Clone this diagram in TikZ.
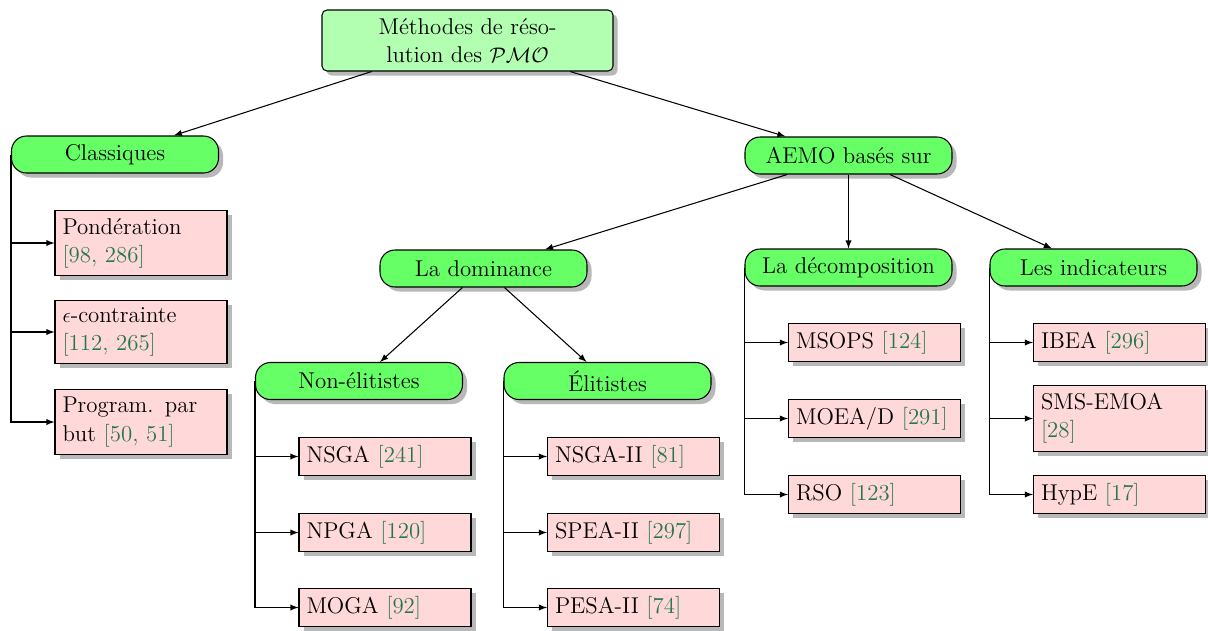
\documentclass[tikz,border=0pt]{standalone}
\usepackage{amsmath,amsfonts}
\usepackage{tikz}
\usetikzlibrary{shadows,arrows}

\definecolor{citegreen}{RGB}{38,120,74}
\newcommand{\refc}[1]{\textcolor{citegreen}{[#1]}}

\begin{document}
\begin{tikzpicture}
	[   font=\fontsize{13}{16}\selectfont,
		myshadow/.style={drop shadow={shadow xshift=0.09cm,shadow yshift=-0.09cm,fill=black!28,opacity=1}},
		rnode/.style={draw=black,semithick,fill=#1,rounded corners=0.3cm,minimum width=4.14cm,minimum height=0.74cm,myshadow},
		leaf/.style={draw=black,semithick,fill=red!15,text width=3.14cm,align=left,inner sep=0.15cm,minimum height=0.74cm,myshadow},
	]
	\tikzset{normal arrow/.style={draw,semithick,-latex}}
	\useasboundingbox (0,0) rectangle (24.16,-12.6);
	
	\node[draw=black,semithick,fill=green!30,rounded corners=0.1cm,minimum width=5.82cm,minimum height=1.22cm,align=center,myshadow] (m) at (9.35,-0.81) {Méthodes de réso-\\lution des $\mathcal{PMO}$};
	
	\node[rnode=green!60] (c) at (2.3,-3.09) {Classiques};
	\node[rnode=green!60] (a) at (16.97,-3.11) {AEMO basés sur};
	\node[rnode=green!60] (d) at (9.67,-5.37) {La dominance};
	\node[rnode=green!60] (dc) at (16.97,-5.35) {La décomposition};
	\node[rnode=green!60] (ind) at (21.87,-5.35) {Les indicateurs};
	\node[rnode=green!60] (ne) at (7.18,-7.62) {Non-élitistes};
	\node[rnode=green!60] (el) at (12.15,-7.62) {Élitistes};
	
	% classiques
	\node[leaf] (c-1) at (2.82,-4.86) {Pondération\\\refc{98, 286}};
	\node[leaf] (c-2) at (2.82,-6.64) {$\epsilon$-contrainte\\\refc{112, 265}};
	\node[leaf] (c-3) at (2.82,-8.44) {Program. par\\but \refc{50, 51}};
	
	% dominance
	\node[leaf] (ne-1) at (7.7,-9.13) {NSGA \refc{241}};
	\node[leaf] (ne-2) at (7.7,-10.65) {NPGA \refc{120}};
	\node[leaf] (ne-3) at (7.7,-12.15) {MOGA \refc{92}};
	\node[leaf] (el-1) at (12.67,-9.13) {NSGA-II \refc{81}};
	\node[leaf] (el-2) at (12.67,-10.65) {SPEA-II \refc{297}};
	\node[leaf] (el-3) at (12.67,-12.15) {PESA-II \refc{74}};
	
	% decomposition, indicateurs
	\node[leaf] (dc-1) at (17.49,-6.85) {MSOPS \refc{124}};
	\node[leaf] (dc-2) at (17.49,-8.37) {MOEA/D \refc{291}};
	\node[leaf] (dc-3) at (17.49,-9.89) {RSO \refc{123}};
	\node[leaf] (ind-1) at (22.39,-6.85) {IBEA \refc{296}};
	\node[leaf] (ind-2) at (22.39,-8.37) {SMS-EMOA\\\refc{28}};
	\node[leaf] (ind-3) at (22.39,-9.89) {HypE \refc{17}};
	
	\path[normal arrow] (m) -- (c);
	\path[normal arrow] (m) -- (a);
	\path[normal arrow] (a) -- (d);
	\path[normal arrow] (a) -- (dc);
	\path[normal arrow] (a) -- (ind);
	\path[normal arrow] (d) -- (ne);
	\path[normal arrow] (d) -- (el);
	
	\foreach \p in {c,ne,el,dc,ind}
	{
		\foreach \i in {1,2,3}
		\path[normal arrow] (\p.west) |- (\p-\i.west);
	}
\end{tikzpicture}
\end{document}
